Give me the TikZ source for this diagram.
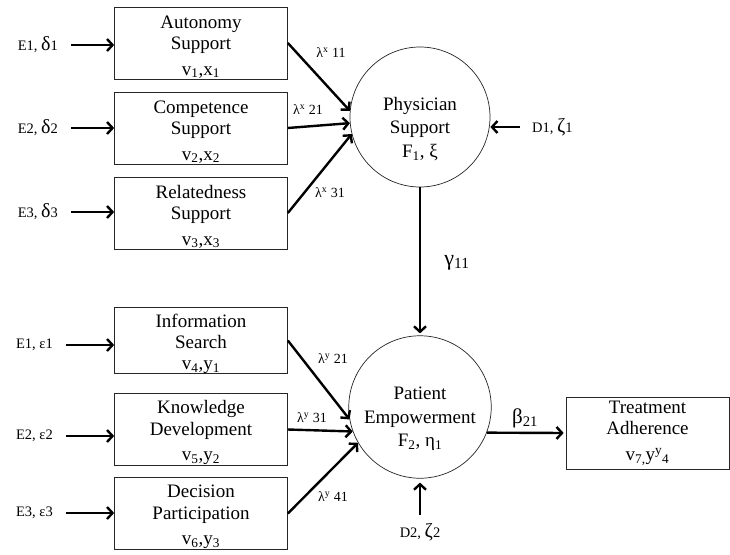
\documentclass[tikz,border=0pt]{standalone}
\usepackage{fontspec}
\setmainfont{Liberation Serif}
\usetikzlibrary{arrows.meta}
\tikzset{
  obs/.style={draw=black!85, line width=0.7pt, minimum width=173pt, minimum height=72pt,
    align=center, inner sep=0pt, font=\fontsize{19}{21.5}\selectfont},
  lat/.style={circle, draw=black!85, line width=0.7pt, minimum size=140pt,
    align=center, inner sep=0pt, font=\fontsize{19}{23.5}\selectfont},
  arr/.style={line width=2.4pt, -{Straight Barb[length=5.5pt,width=12pt]}},
  err/.style={inner sep=0pt, font=\fontsize{14.5}{14.5}\selectfont},
  load/.style={inner sep=0pt, font=\fontsize{14}{14}\selectfont},
  coef/.style={inner sep=0pt, font=\fontsize{22}{22}\selectfont},
}
\newcommand{\grk}[1]{{\fontsize{20}{20}\selectfont #1}}
\newcommand{\topln}{\rule{0pt}{20pt}}
\begin{document}
\begin{tikzpicture}[x=1pt,y=-1pt]
\useasboundingbox (0,0) rectangle (730,554);
% indicators, upper
\node[obs] (as) at (201,43) {\topln Autonomy\\Support\\[4pt]v\textsubscript{1},x\textsubscript{1}};
\node[obs] (cs) at (201,128) {\topln Competence\\Support\\[4pt]v\textsubscript{2},x\textsubscript{2}};
\node[obs] (rs) at (201,213) {\topln Relatedness\\Support\\[4pt]v\textsubscript{3},x\textsubscript{3}};
% indicators, lower
\node[obs, minimum height=63pt] (is) at (201,340.5) {\topln Information\\Search\\[-1pt]v\textsubscript{4},y\textsubscript{1}};
\node[obs] (kd) at (201,429.5) {\topln Knowledge\\Development\\[4pt]v\textsubscript{5},y\textsubscript{2}};
\node[obs] (dp) at (201,513.5) {\topln Decision\\Participation\\[4pt]v\textsubscript{6},y\textsubscript{3}};
% latent
\node[lat] (ps) at (420,117) {\rule{0pt}{37pt}Physician\\Support\\F\textsubscript{1}, ξ};
\node[lat] (pe) at (420,407) {\rule{0pt}{37pt}Patient\\Empowerment\\F\textsubscript{2}, η\textsubscript{1}};
\node[obs, minimum width=163pt] (ta) at (647.5,433) {Treatment\\Adherence\\[4pt]v\textsubscript{7,}y\textsuperscript{y}\textsubscript{4}};
% error terms
\node[err, anchor=east] (e1) at (58,45) {E1, \grk{δ}1};
\node[err, anchor=east] (e2) at (58,128) {E2, \grk{δ}2};
\node[err, anchor=east] (e3) at (58,212) {E3, \grk{δ}3};
\node[err, anchor=east] (e4) at (53,345) {E1, ε1};
\node[err, anchor=east] (e5) at (53,436) {E2, ε2};
\node[err, anchor=east] (e6) at (53,513) {E3, ε3};
\node[err, anchor=west] (d1) at (532,127) {D1, \grk{ζ}1};
\node[err] (d2) at (420,532) {D2, \grk{ζ}2};
\foreach \e/\b in {e1/as,e2/cs,e3/rs,e4/is,e5/kd,e6/dp}
  \draw[arr, shorten <=13pt] (\e.east) -- (\e.east -| \b.west);
\draw[arr, shorten <=12pt] (d1.west) -- (d1.west -| ps.east);
\draw[arr, shorten <=8pt, shorten >=4pt] (d2.north) -- (pe.south);
% loadings
\draw[arr] (as.east) -- (ps.175);
\draw[arr] (cs.east) -- (ps.185);
\draw[arr] (rs.east) -- (ps.194);
\draw[arr] (is.east) -- (pe.190);
\draw[arr] (kd.east) -- (pe.200);
\draw[arr] (dp.east) -- (pe.210);
\node[load] (l1) at (331,53) {λ\textsuperscript{x} 11};
\node[load] (l2) at (308,110) {λ\textsuperscript{x} 21};
\node[load] (l3) at (330,193) {λ\textsuperscript{x} 31};
\node[load] (l4) at (333,359) {λ\textsuperscript{y} 21};
\node[load] (l5) at (312,418) {λ\textsuperscript{y} 31};
\node[load] (l6) at (333,497) {λ\textsuperscript{y} 41};
% structural paths
\draw[arr, shorten >=2pt] (ps.south) -- (pe.north);
\node[coef] (g) at (457,263) {γ\textsubscript{11}};
\draw[arr, shorten >=2pt] (pe.-21) -- (ta.west);
\node[coef, font=\fontsize{21}{21}\selectfont] (b) at (525,418) {β\textsubscript{21}};
\end{tikzpicture}
\end{document}
